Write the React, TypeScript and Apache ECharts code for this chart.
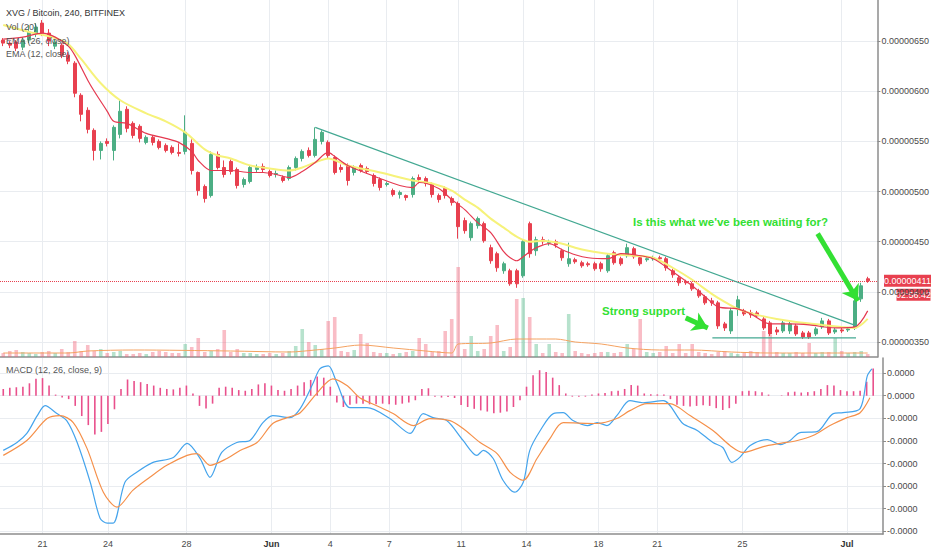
import React, { useEffect, useRef } from "react";
import * as echarts from "echarts";

const FONT = '"Liberation Sans", Arial, Helvetica, sans-serif';

// ---- categories / ticks ----
const SLOT_COUNT = 135;
const slotNames: string[] = Array.from({ length: SLOT_COUNT }, (_, i) => `s${i}`);
const tickSlots = [6, 16, 28, 41, 50, 59, 70, 80, 91, 100, 113, 129];
const tickLabels = ["21", "24", "28", "Jun", "4", "7", "11", "14", "18", "21", "25", "Jul"];
const priceTicks = [350, 400, 450, 500, 550, 600, 650];
const macdTicks = [1, 0, -1, -2, -3, -4, -5, -6];

// ---- candles (price in 1e-8 BTC) ----
const opens = [651,648,649,644,651,657,668,658,645,646,636,628,596,581,561,541,550,541,557,582,568,565,549,554,550,546,544,539,540,548,519,505,496,537,524,530,522,507,510,522,525,520,517,514,513,524,533,541,536,550,549,534,524,526,519,526,523,516,512,507,501,497,496,497,514,513,507,496,503,493,488,471,454,466,468,444,438,421,421,421,416,468,441,452,449,450,441,428,432,429,428,428,428,421,439,433,436,443,434,432,433,434,433,421,414,410,408,401,395,391,389,368,361,383,381,379,379,373,369,362,361,361,366,359,359,358,365,371,360,362,362,364,393,413];
const closes = [648,646,643,651,659,664,658,650,649,636,630,598,577,562,541,548,548,564,580,563,556,553,554,549,544,541,539,538,559,521,501,493,537,524,517,520,506,512,524,524,522,516,518,511,524,533,540,536,552,559,536,519,522,511,524,521,520,508,504,508,497,499,494,513,512,508,497,492,496,489,465,461,468,473,451,431,424,428,408,408,450,438,452,450,450,447,434,433,430,426,427,423,423,436,429,428,444,435,428,433,434,433,424,417,409,409,403,396,389,389,366,364,381,392,378,377,376,364,358,360,369,368,358,355,355,363,371,359,362,361,363,391,406,411];
const lows = [645,643,640,641,648,654,655,645,642,633,627,594,570,558,531,532,545,531,553,559,553,549,547,546,542,539,537,535,537,517,496,489,494,522,514,517,503,504,508,519,519,514,514,509,511,521,530,534,534,547,533,517,519,506,516,519,518,505,501,505,495,493,491,494,508,505,494,489,493,486,453,458,451,463,449,428,420,418,406,404,414,434,436,447,446,444,431,425,428,424,425,421,420,419,427,426,434,433,426,430,431,431,421,414,406,407,401,394,387,386,363,361,358,376,376,374,374,362,356,357,359,358,356,353,353,356,363,357,358,359,360,362,390,409];
const highs = [653,650,651,654,666,668,671,662,652,648,639,630,598,584,563,550,553,566,591,585,570,567,556,556,552,548,546,548,576,552,520,507,540,540,531,532,524,514,526,527,528,522,521,516,526,535,542,544,564,561,551,536,527,528,526,528,525,518,514,510,503,501,497,515,517,515,509,498,505,495,490,474,470,475,470,447,440,430,423,423,452,470,455,455,452,452,443,449,434,431,430,430,430,438,441,435,448,445,436,435,436,436,435,423,416,412,410,403,397,394,391,370,384,396,383,382,381,375,371,365,371,371,368,361,361,365,374,373,364,364,365,393,409,415];

// ---- volume (arbitrary units) and its 20-period average ----
const volumes = [4,6,7,5,4,3,5,6,4,8,5,16,6,12,6,8,4,5,6,3,3,4,3,5,6,5,4,4,13,10,19,5,6,8,27,5,8,4,4,3,3,4,3,4,6,11,28,15,12,8,36,40,6,5,7,23,14,5,4,4,3,4,5,6,19,13,5,6,26,38,90,8,21,6,8,21,32,6,10,58,59,40,13,4,13,5,4,43,6,4,3,4,5,5,4,5,13,8,38,5,4,5,11,4,13,4,13,5,4,3,5,6,4,3,4,6,5,26,22,5,4,4,5,4,14,4,5,5,19,6,4,5,6,3];
const volumeMA = [[0,4],[10,4],[13,6],[20,7],[35,6],[44,5],[48,7],[51,9],[55,12],[60,9],[65,6],[69,4],[70,13],[75,14],[79,18],[85,18],[88,15],[92,13],[96,9],[101,7],[106,7],[112,5],[118,4],[133,4]];

// ---- EMAs (slot, price) ----
const ema26 = [[0,666],[4,659],[8,653],[10,647],[12,632],[15,608],[18,591],[22,578],[25,570],[28,559],[31,542],[33,536],[35,533],[38,526],[41,523],[44,521],[46,524],[48,529],[50,533],[53,526],[58,519],[63,511],[66,508],[69,501],[71,492],[73,484],[75,473],[77,464],[79,455],[81,450],[83,451],[86,448],[88,444],[90,441],[93,438],[97,436],[100,434],[103,424],[106,412],[109,398],[111,390],[113,383],[116,377],[119,373],[122,370],[126,367],[129,365],[131,364],[133,373]];
const ema12 = [[0,652],[3,654],[6,658],[8,654],[10,645],[11,636],[13,611],[14,600],[16,580],[17,570],[19,568],[22,558],[25,553],[27,549],[29,540],[30,531],[32,521],[35,521],[38,519],[40,519],[42,517],[44,514],[46,520],[48,529],[50,539],[51,535],[53,526],[58,513],[61,506],[63,504],[64,509],[67,503],[69,492],[71,482],[73,469],[75,459],[77,440],[78,434],[79,431],[80,435],[81,440],[82,444],[84,448],[86,442],[88,437],[90,434],[93,433],[95,438],[97,437],[100,433],[103,420],[106,406],[108,395],[110,385],[113,383],[115,378],[118,368],[121,368],[124,367],[128,364],[131,365],[133,381]];

// ---- MACD (12, 26, close, 9), units of 1e-8 ----
const macdLine = [[0,-2.42],[2.1,-2.07],[3.6,-1.67],[5.2,-0.88],[6.4,-0.44],[8.2,-0.79],[9.7,-1.1],[11.3,-2.07],[13.3,-3.83],[14.8,-5.42],[15.9,-5.64],[16.8,-5.64],[18.6,-3.83],[20.4,-3.39],[22.9,-2.95],[26,-2.73],[28.1,-2.11],[30.1,-2.78],[31.6,-3.61],[33.4,-2.51],[35.7,-2.07],[37.7,-1.98],[39.7,-1.19],[41.2,-0.88],[43.8,-0.97],[45.4,-0.57],[47.4,0.57],[48.4,1.19],[49.7,1.32],[51,0.57],[53,-0.53],[55.6,-0.53],[59.1,-1.01],[62.2,-1.67],[64.2,-0.79],[65.7,-0.97],[67.8,-1.1],[70.3,-1.98],[72.4,-2.64],[73.4,-2.42],[74.9,-2.78],[76.4,-3.74],[78.2,-4.27],[79.5,-3.83],[80.5,-2.42],[82.1,-1.54],[84.1,-0.79],[85.6,-0.75],[87.1,-1.1],[89.3,-1.32],[90.8,-1.19],[92.3,-1.32],[93.8,-0.88],[95.8,-0.22],[97.8,-0.31],[100.9,-0.22],[103.9,-1.23],[106.1,-1.54],[108.5,-2.07],[110,-2.29],[111.4,-2.95],[112.6,-2.73],[114.2,-2.2],[116.8,-1.94],[118.8,-2.16],[120.3,-1.98],[121.8,-1.63],[124.4,-1.59],[126.9,-0.79],[128.4,-0.75],[131,-0.57],[132.1,0.88],[132.8,1.19]];
const signalLine = [[0,-2.64],[3.6,-1.98],[6.7,-1.01],[8.7,-0.88],[10.7,-1.19],[12.8,-2.33],[15.3,-4.27],[17.4,-4.93],[19.8,-4.19],[22.4,-3.61],[25,-3.08],[28.1,-2.64],[29.6,-2.56],[31.6,-3.08],[34.2,-2.78],[36.2,-2.42],[38.8,-2.07],[41.2,-1.23],[43.4,-0.97],[45.4,-0.75],[48,0.13],[50.4,0.75],[52.6,0.44],[54.5,-0.09],[57.1,-0.44],[59.6,-0.79],[62.7,-1.32],[65.2,-1.01],[68.3,-1.1],[70.3,-1.45],[72.9,-2.07],[75.5,-2.56],[77.5,-3.39],[79.5,-3.74],[81.6,-2.78],[83.6,-1.89],[85.6,-1.19],[90.8,-1.23],[93.8,-1.01],[95.8,-0.66],[98.4,-0.35],[101.9,-0.35],[105,-0.88],[108.5,-1.54],[111.1,-2.2],[113.1,-2.51],[116.2,-2.25],[118.8,-2.11],[121.4,-1.98],[123.8,-1.76],[126.4,-1.32],[129,-0.97],[131,-0.75],[132.5,-0.09]];
const macdHist = [0.30,0.35,0.38,0.40,0.55,0.75,0.78,0.45,0.05,-0.08,-0.15,-0.45,-0.90,-1.30,-1.72,-1.60,-1.25,-0.60,0.30,0.72,0.65,0.60,0.52,0.45,0.35,0.30,0.28,0.35,0.45,0.10,-0.45,-0.56,-0.35,0.35,0.40,0.35,0.25,0.22,0.30,0.50,0.55,0.45,0.25,0.22,0.30,0.45,0.60,0.70,0.85,0.80,0.40,-0.30,-0.50,-0.40,-0.35,-0.35,-0.38,-0.38,-0.35,-0.38,-0.40,-0.35,-0.30,-0.20,0.30,0.33,-0.05,-0.08,-0.06,-0.10,-0.41,-0.50,-0.58,-0.65,-0.70,-0.78,-0.75,-0.70,-0.50,-0.20,0.40,0.91,1.13,1.05,0.80,0.47,0.10,-0.04,-0.05,-0.04,0.05,0.10,0.12,0.20,0.22,0.30,0.47,0.45,0.10,0.06,0.06,0.05,-0.15,-0.40,-0.45,-0.48,-0.45,-0.42,-0.45,-0.55,-0.63,-0.55,-0.35,0.20,0.22,0.20,0.15,0.05,0.00,0.02,0.15,0.18,0.14,0.16,0.20,0.30,0.47,0.45,0.25,0.20,0.20,0.22,0.62,1.20];

// ---- drawings (slot, price) ----
const trendLine = [[48, 564], [131.3, 366]];
const supportLine = [[109.1, 354], [131.2, 354]];
const arrowBig = [[125.3, 458], [131.5, 391]];
const arrowSmall = [[105, 374], [108.4, 364]];
const countdown = "02:56:42";

const UP = "#4cae84";
const DOWN = "#e8404f";
const GREEN_TXT = "#33e033";
const GRID = "#e9ecf0";
const AXIS = "#8c8c8c";
const LABEL = "#4a4a4a";

const fmtPrice = (v: number) => (v / 1e8).toFixed(8);
const fmtMacd = (v: number) => (v * 1e-8).toFixed(4);
const tickSet = new Set(tickSlots);
const isTick = (i: number) => tickSet.has(i);

export default function App() {
  const ref = useRef<HTMLDivElement>(null);
  useEffect(() => {
    if (!ref.current) return;
    const chart = echarts.init(ref.current, undefined, { renderer: "svg" });
    const lastClose = closes[closes.length - 1];
    const candleData = opens.map((o, i) => [o, closes[i], lows[i], highs[i]]);
    const volData = volumes.map((v, i) => ({
      value: v,
      itemStyle: { color: closes[i] >= opens[i] ? "rgba(83,185,135,0.42)" : "rgba(240,98,120,0.42)" },
    }));
    const catX = (gridIndex: number, showLabels: boolean) => ({
      type: "category",
      gridIndex,
      data: slotNames,
      boundaryGap: true,
      axisLine: { show: true, onZero: false, lineStyle: { color: AXIS, width: 1.5 } },
      axisTick: { show: false },
      axisLabel: {
        show: showLabels,
        interval: (i: number) => isTick(i),
        formatter: (_v: string, i: number) => {
          const t = tickLabels[tickSlots.indexOf(i)] ?? "";
          return /^[A-Za-z]/.test(t) ? `{m|${t}}` : t;
        },
        rich: { m: { fontWeight: "bold", fontSize: 9, color: "#333", fontFamily: FONT } },
        fontSize: 9,
        color: LABEL,
        fontFamily: FONT,
        margin: 5,
      },
      splitLine: { show: false },
    });
    const valX = (gridIndex: number) => ({
      type: "value",
      gridIndex,
      min: -0.5,
      max: SLOT_COUNT - 0.5,
      axisLine: { show: false, onZero: false },
      axisTick: { show: false, customValues: tickSlots },
      axisLabel: { show: false, customValues: tickSlots },
      splitLine: { show: true, lineStyle: { color: GRID, width: 1 } },
    });
    const option: any = {
      animation: false,
      backgroundColor: "#ffffff",
      textStyle: { fontFamily: FONT },
      grid: [
        { left: 0, top: 0, width: 883, height: 357 },
        { left: 0, top: 358, width: 883, height: 176 },
      ],
      xAxis: [catX(0, false), catX(1, true), valX(0), valX(1)],
      yAxis: [
        {
          type: "value",
          gridIndex: 0,
          position: "right",
          min: 335,
          max: 691,
          axisLine: { show: true, onZero: false, lineStyle: { color: AXIS, width: 1.5 } },
          axisTick: { show: true, length: 3, customValues: priceTicks, lineStyle: { color: AXIS } },
          axisLabel: { customValues: priceTicks, formatter: fmtPrice, fontSize: 9, color: LABEL, margin: 4, fontFamily: FONT },
          splitLine: { show: true, lineStyle: { color: GRID } },
        },
        { type: "value", gridIndex: 0, min: 0, max: 357, show: false, axisLine: { onZero: false } },
        {
          type: "value",
          gridIndex: 1,
          position: "right",
          min: -6.12,
          max: 1.67,
          axisLine: { show: true, onZero: false, lineStyle: { color: AXIS, width: 1.5 } },
          axisTick: { show: true, length: 3, customValues: macdTicks, lineStyle: { color: AXIS } },
          axisLabel: { customValues: macdTicks, formatter: fmtMacd, fontSize: 9, color: LABEL, margin: 4, fontFamily: FONT },
          splitLine: { show: true, lineStyle: { color: GRID } },
        },
      ],
      series: [
        { name: "Vol", type: "bar", xAxisIndex: 0, yAxisIndex: 1, data: volData, barWidth: 3.6, z: 1, silent: true },
        {
          name: "VolMA", type: "line", xAxisIndex: 2, yAxisIndex: 1, data: volumeMA, showSymbol: false, smooth: 0.3,
          lineStyle: { color: "#f4a261", width: 1 }, z: 2,
        },
        {
          name: "XVG",
          type: "candlestick",
          xAxisIndex: 0,
          yAxisIndex: 0,
          data: candleData,
          barWidth: 3.6,
          itemStyle: { color: UP, color0: DOWN, borderColor: UP, borderColor0: DOWN, borderWidth: 1 },
          z: 3,
          markLine: {
            silent: true,
            symbol: ["none", "none"],
            lineStyle: { color: DOWN, type: "dotted", width: 1 },
            label: { show: false },
            data: [{ yAxis: lastClose }],
          },
        },
        {
          name: "EMA26", type: "line", xAxisIndex: 2, yAxisIndex: 0, data: ema26, showSymbol: false, smooth: 0.3,
          lineStyle: { color: "#f6f27a", width: 2 }, z: 4,
        },
        {
          name: "EMA12", type: "line", xAxisIndex: 2, yAxisIndex: 0, data: ema12, showSymbol: false, smooth: 0.3,
          lineStyle: { color: "#e53950", width: 1.2 }, z: 5,
        },
        {
          name: "Trend",
          type: "line",
          xAxisIndex: 2,
          yAxisIndex: 0,
          data: trendLine,
          showSymbol: false,
          lineStyle: { color: "#43a892", width: 1.2 },
          z: 6,
          markLine: {
            silent: true,
            symbol: ["none", "arrow"],
            symbolSize: 15,
            label: { show: false },
            lineStyle: { color: GREEN_TXT, width: 5, type: "solid" },
            itemStyle: { color: GREEN_TXT },
            data: [
              [{ coord: arrowBig[0] }, { coord: arrowBig[1] }],
              [{ coord: arrowSmall[0] }, { coord: arrowSmall[1] }],
            ],
          },
        },
        {
          name: "Support", type: "line", xAxisIndex: 2, yAxisIndex: 0, data: supportLine, showSymbol: false,
          lineStyle: { color: "#43a892", width: 1.2 }, z: 6,
        },
        { name: "Hist", type: "bar", xAxisIndex: 1, yAxisIndex: 2, data: macdHist, barWidth: 1.6, itemStyle: { color: "#e9508c" }, z: 2 },
        {
          name: "MACD", type: "line", xAxisIndex: 3, yAxisIndex: 2, data: macdLine, showSymbol: false, smooth: 0.3,
          lineStyle: { color: "#45a4ec", width: 1.2 }, z: 3,
        },
        {
          name: "Signal", type: "line", xAxisIndex: 3, yAxisIndex: 2, data: signalLine, showSymbol: false, smooth: 0.3,
          lineStyle: { color: "#f5904a", width: 1.2 }, z: 4,
        },
      ],
    };
    chart.setOption(option);

    // price tag + countdown, placed at the last close through the price scale
    const py = chart.convertToPixel({ yAxisIndex: 0 }, lastClose) as number;
    const texts: any[] = [
      { type: "text", left: 6, top: 8, z: 20, style: { text: "XVG / Bitcoin, 240, BITFINEX", fill: "#333", font: `9px ${FONT}` } },
      { type: "text", left: 6, top: 22, z: 20, style: { text: "Vol (20)", fill: "#555", font: `9px ${FONT}` } },
      { type: "text", left: 6, top: 36, z: 20, style: { text: "EMA (26, close)", fill: "#555", font: `9px ${FONT}` } },
      { type: "text", left: 6, top: 49, z: 20, style: { text: "EMA (12, close)", fill: "#555", font: `9px ${FONT}` } },
      { type: "text", left: 6, top: 365, z: 20, style: { text: "MACD (12, 26, close, 9)", fill: "#555", font: `9px ${FONT}` } },
      { type: "text", left: 633, top: 216, z: 20, style: { text: "Is this what we've been waiting for?", fill: GREEN_TXT, font: `bold 11.5px ${FONT}` } },
      { type: "text", left: 602, top: 305, z: 20, style: { text: "Strong support", fill: GREEN_TXT, font: `bold 11.5px ${FONT}` } },
      {
        type: "group",
        left: 884,
        top: py - 6,
        z: 30,
        children: [
          { type: "rect", shape: { x: 0, y: 0, width: 47, height: 12 }, style: { fill: DOWN } },
          { type: "text", x: 23.5, y: 6.5, style: { text: fmtPrice(lastClose), fill: "#fff", font: `9px ${FONT}`, align: "center", verticalAlign: "middle" } },
        ],
      },
      {
        type: "group",
        left: 896,
        top: py + 8,
        z: 30,
        children: [
          { type: "rect", shape: { x: 0, y: 0, width: 34, height: 12 }, style: { fill: DOWN } },
          { type: "text", x: 17, y: 6.5, style: { text: countdown, fill: "#fff", font: `9px ${FONT}`, align: "center", verticalAlign: "middle" } },
        ],
      },
    ];
    chart.setOption({ graphic: texts });
    return () => chart.dispose();
  }, []);
  return (
    <div
      ref={ref}
      style={{ position: "absolute", left: 0, top: 0, width: 932, height: 550, background: "#fff" }}
    />
  );
}
